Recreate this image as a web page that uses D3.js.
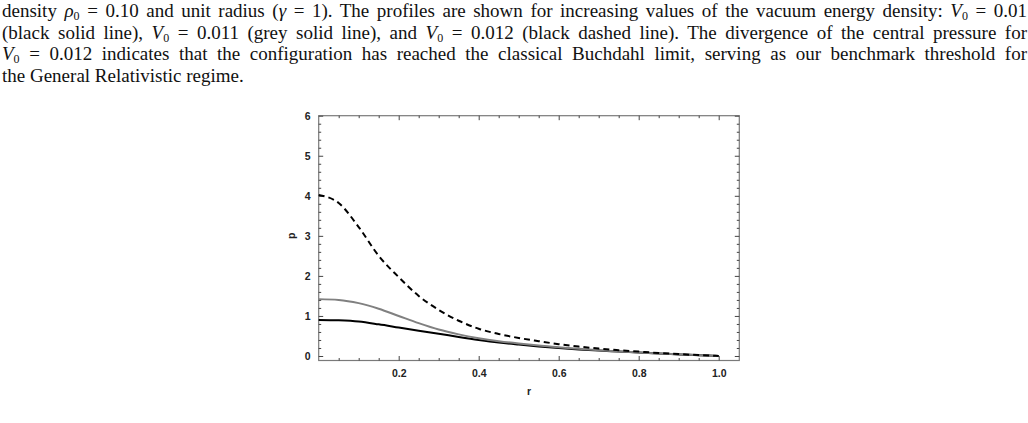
<!DOCTYPE html>
<html>
<head>
<meta charset="utf-8">
<script src="https://cdn.jsdelivr.net/npm/d3@7"></script>
<style>
  body { margin: 0; background: #fff; width: 1028px; height: 423px; overflow: hidden; position: relative; }
  .caption {
    position: absolute; left: 2px; top: 0px; width: 1025px;
    font-family: "Liberation Serif", "DejaVu Serif", serif; font-size: 19px; color: #111;
  }
  .caption .ln { display: block; height: 21.7px; line-height: 21.7px; white-space: nowrap; }
  .caption .ln span.inner { display: inline-block; }
  .caption i { font-style: italic; }
  .caption sub { font-size: 12px; vertical-align: -3px; line-height: 0; }
  svg { position: absolute; left: 0; top: 0; }
  .tick text { font-family: "Liberation Sans", Arial, sans-serif; font-weight: bold; font-size: 10.5px; fill: #222; }
</style>
</head>
<body>
<div class="caption">
  <div class="ln j"><span class="inner">density <i>ρ</i><sub>0</sub> = 0.10 and unit radius (<i>γ</i> = 1). The profiles are shown for increasing values of the vacuum energy density: <i>V</i><sub>0</sub> = 0.01</span></div>
  <div class="ln j"><span class="inner">(black solid line), <i>V</i><sub>0</sub> = 0.011 (grey solid line), and <i>V</i><sub>0</sub> = 0.012 (black dashed line). The divergence of the central pressure for</span></div>
  <div class="ln j"><span class="inner"><i>V</i><sub>0</sub> = 0.012 indicates that the configuration has reached the classical Buchdahl limit, serving as our benchmark threshold for</span></div>
  <div class="ln"><span class="inner">the General Relativistic regime.</span></div>
</div>
<div id="chart"></div>
<script>
// radius samples and pressure profiles
var radius = [0, 0.05, 0.1, 0.15, 0.2, 0.25, 0.3, 0.35, 0.4, 0.45, 0.5, 0.55, 0.6, 0.65, 0.7, 0.75, 0.8, 0.85, 0.9, 0.95, 1.0];
var pV010 = [0.90, 0.89, 0.86, 0.79, 0.71, 0.63, 0.555, 0.475, 0.40, 0.335, 0.285, 0.24, 0.20, 0.165, 0.135, 0.11, 0.085, 0.06, 0.04, 0.02, 0];
var pV011 = [1.42, 1.40, 1.32, 1.18, 1.0, 0.82, 0.66, 0.54, 0.445, 0.37, 0.31, 0.26, 0.22, 0.18, 0.145, 0.115, 0.09, 0.065, 0.042, 0.02, 0];
var pV012 = [4.02, 3.82, 3.22, 2.5, 1.97, 1.5, 1.15, 0.88, 0.68, 0.55, 0.45, 0.37, 0.295, 0.235, 0.185, 0.145, 0.11, 0.075, 0.048, 0.022, 0];

var xTicks = [0.2, 0.4, 0.6, 0.8, 1.0];
var yTicks = [0, 1, 2, 3, 4, 5, 6];

var series = [
  { values: pV010, color: "#000", dash: null },
  { values: pV011, color: "#808080", dash: null },
  { values: pV012, color: "#000", dash: "6,4" }
];

// justify caption lines by spreading word spacing
var lineWidth = 1025;
d3.selectAll(".caption .ln.j").each(function() {
  var inner = d3.select(this).select(".inner").node();
  var w = inner.getBoundingClientRect().width;
  var spaces = (inner.textContent.match(/ /g) || []).length;
  if (spaces > 0) d3.select(this).style("word-spacing", ((lineWidth - w) / spaces) + "px");
});

var svg = d3.select("#chart").append("svg")
  .attr("width", 1028)
  .attr("height", 423);

var pLeft = 318.7, pRight = 739.3, pTop = 115.7, pBottom = 360.5;

var x = d3.scaleLinear().domain([0, 1.0515]).range([pLeft, pRight]);
var y = d3.scaleLinear().domain([-0.1125, 6]).range([pBottom, pTop]);

var xMinor = d3.range(0.05, 1.05, 0.05).filter(function(v) { return Math.abs(v * 5 - Math.round(v * 5)) > 1e-6; });
var yMinor = d3.range(0.2, 6, 0.2).filter(function(v) { return Math.abs(v - Math.round(v)) > 1e-6; });

// frame
svg.append("rect")
  .attr("x", pLeft).attr("y", pTop)
  .attr("width", pRight - pLeft).attr("height", pBottom - pTop)
  .attr("fill", "none").attr("stroke", "#7a7a7a").attr("stroke-width", 1.2);

var tickColor = "#444";

function drawAxis(axis, transform, labels) {
  var g = svg.append("g").attr("transform", transform).call(axis);
  g.select(".domain").remove();
  g.selectAll(".tick line").attr("stroke", tickColor).attr("stroke-width", 1);
  if (!labels) g.selectAll(".tick text").remove();
  return g;
}

// major ticks
drawAxis(d3.axisBottom(x).tickValues(xTicks).tickSize(-4.5).tickPadding(9).tickFormat(d3.format(".1f")), "translate(0," + pBottom + ")", true);
drawAxis(d3.axisTop(x).tickValues(xTicks).tickSize(-4.5), "translate(0," + pTop + ")", false);
drawAxis(d3.axisLeft(y).tickValues(yTicks).tickSize(-4.5).tickPadding(8).tickFormat(d3.format("d")), "translate(" + pLeft + ",0)", true);
drawAxis(d3.axisRight(y).tickValues(yTicks).tickSize(-4.5), "translate(" + pRight + ",0)", false);

// minor ticks
drawAxis(d3.axisBottom(x).tickValues(xMinor).tickSize(-2.5), "translate(0," + pBottom + ")", false);
drawAxis(d3.axisTop(x).tickValues(xMinor).tickSize(-2.5), "translate(0," + pTop + ")", false);
drawAxis(d3.axisLeft(y).tickValues(yMinor).tickSize(-2.5), "translate(" + pLeft + ",0)", false);
drawAxis(d3.axisRight(y).tickValues(yMinor).tickSize(-2.5), "translate(" + pRight + ",0)", false);

// curves
var line = d3.line()
  .x(function(d) { return x(d[0]); })
  .y(function(d) { return y(d[1]); })
  .curve(d3.curveMonotoneX);

series.forEach(function(s) {
  svg.append("path")
    .datum(radius.map(function(r, i) { return [r, s.values[i]]; }))
    .attr("d", line)
    .attr("fill", "none")
    .attr("stroke", s.color)
    .attr("stroke-width", 2)
    .attr("stroke-dasharray", s.dash);
});

// axis labels
svg.append("text")
  .attr("x", (pLeft + pRight) / 2).attr("y", 395)
  .attr("text-anchor", "middle")
  .attr("font-family", "Liberation Sans, Arial, sans-serif")
  .attr("font-weight", "bold").attr("font-size", 10.5).attr("fill", "#222")
  .text("r");

svg.append("text")
  .attr("transform", "translate(295," + y(3) + ") rotate(-90)")
  .attr("text-anchor", "middle")
  .attr("font-family", "Liberation Sans, Arial, sans-serif")
  .attr("font-weight", "bold").attr("font-size", 10.5).attr("fill", "#222")
  .text("p");
</script>
</body>
</html>
